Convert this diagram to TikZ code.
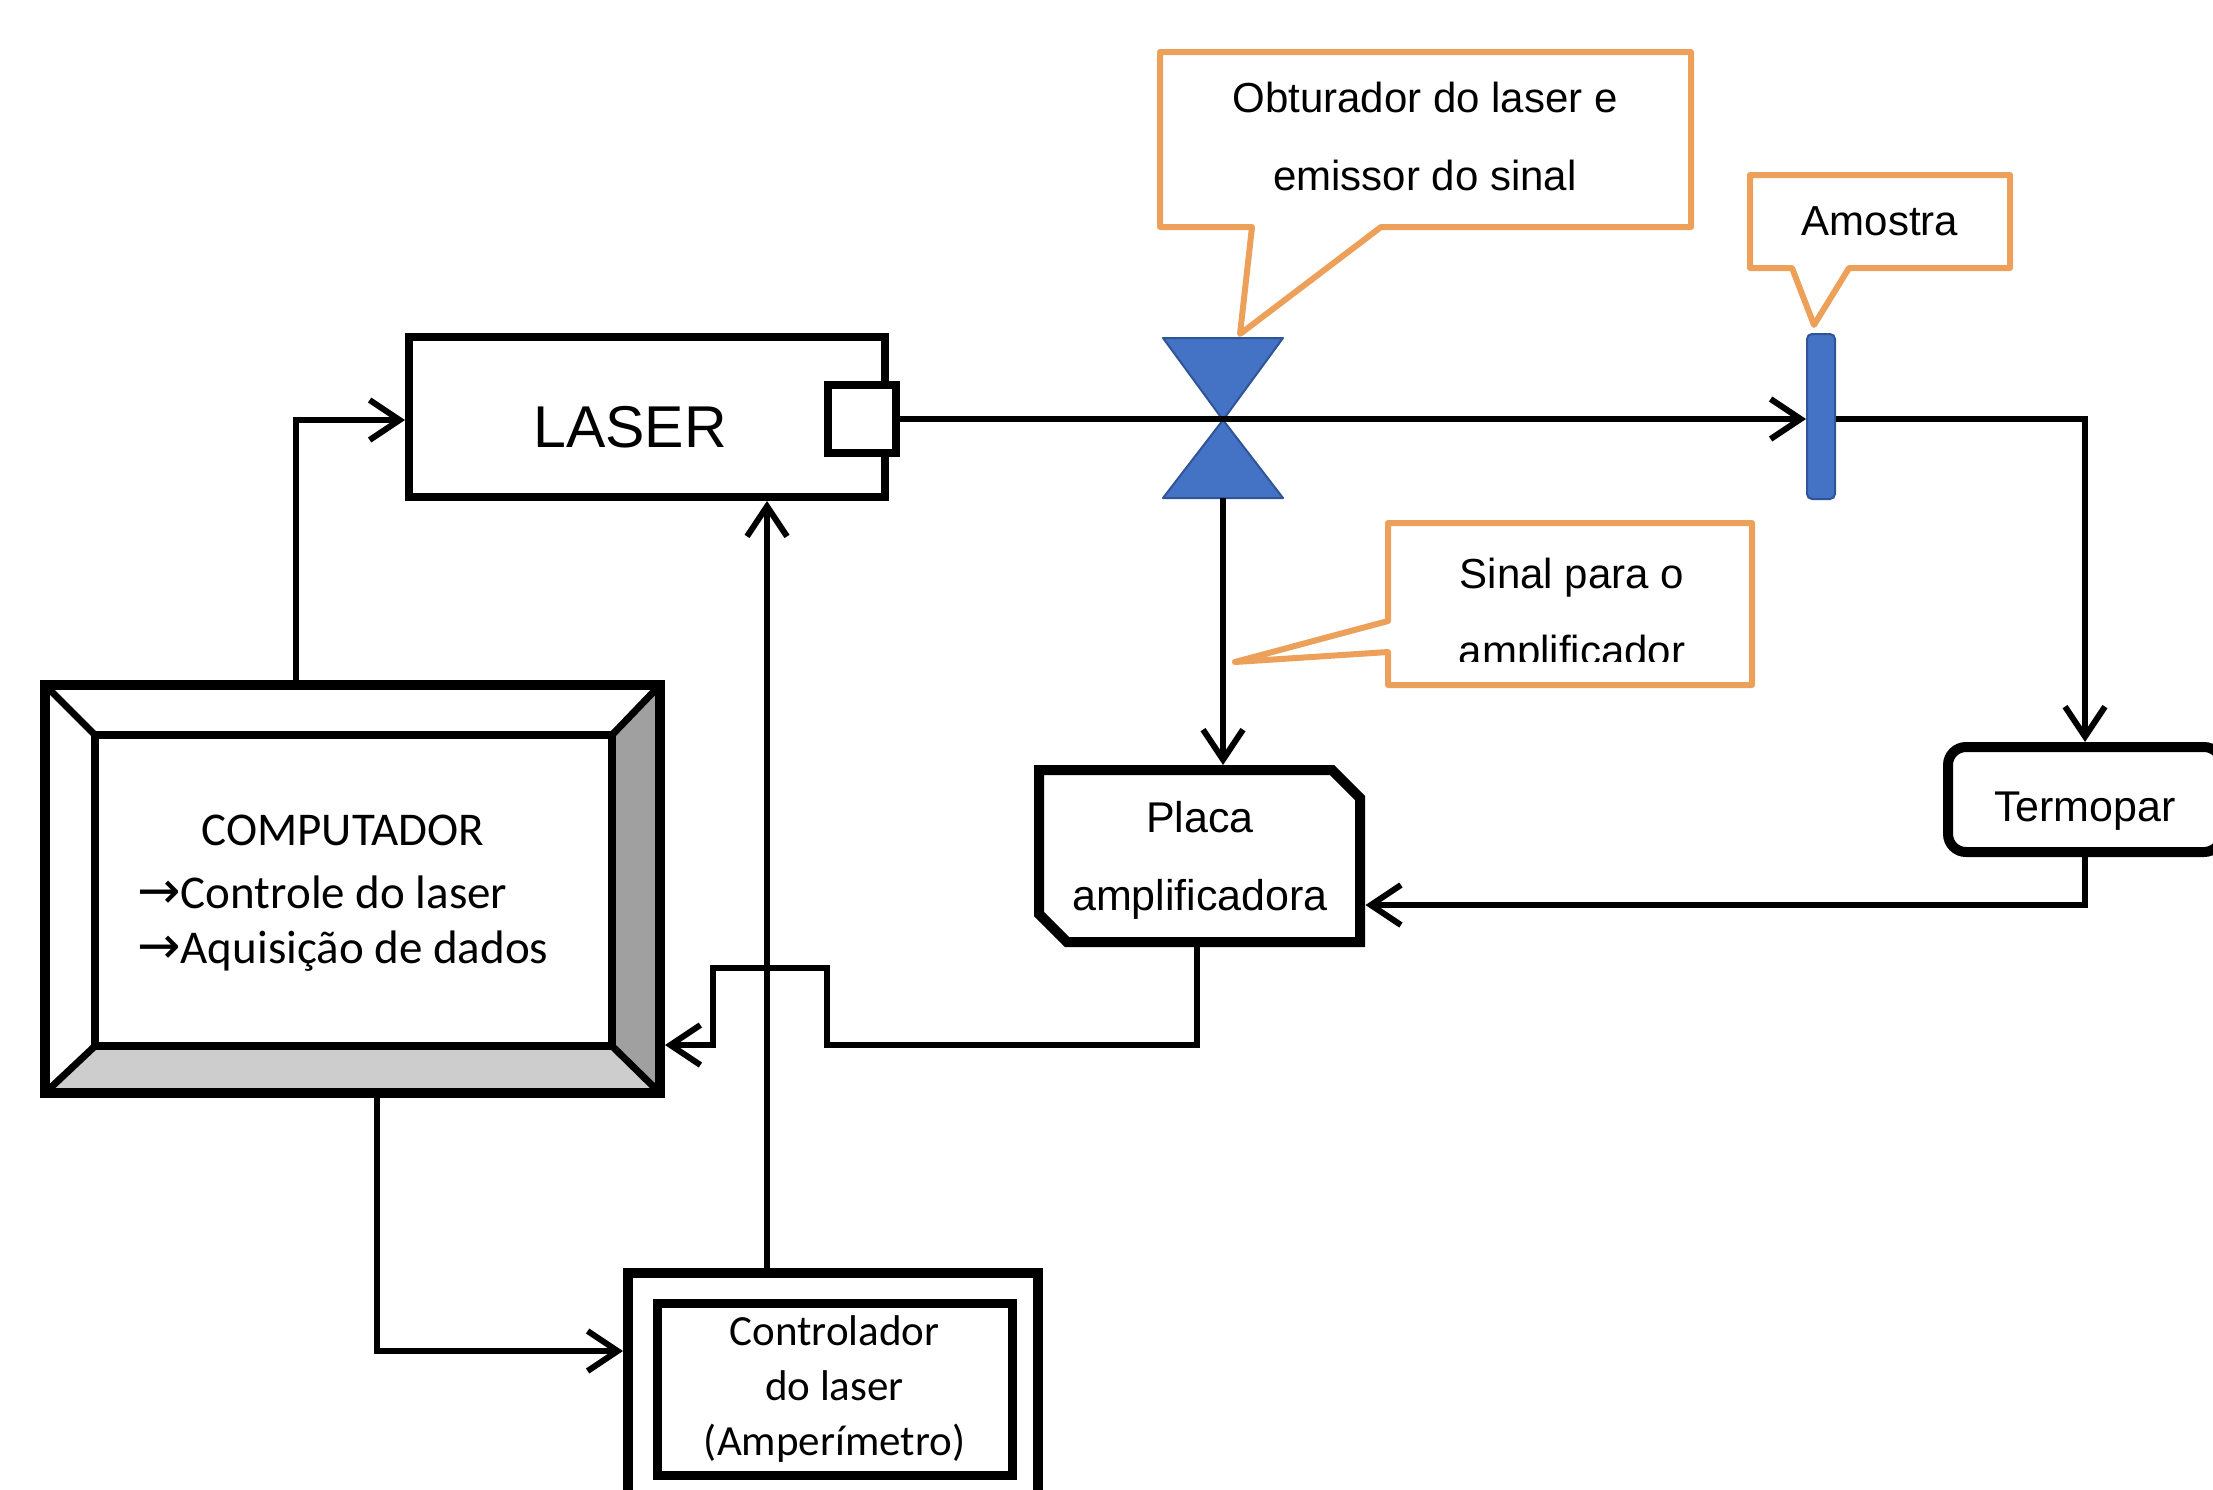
\documentclass[tikz,border=0pt]{standalone}
\usepackage{fontspec}
\setmainfont{Liberation Sans}
\newfontfamily\calib{Carlito}
\newfontfamily\dvsans{DejaVu Sans}
\usetikzlibrary{arrows.meta}
\newcommand\stk[2][c]{\begin{tabular}[t]{@{}#1@{}}#2\end{tabular}}
\newcommand\rarr{{\dvsans\fontsize{52}{55}\selectfont →}}
\definecolor{calloutor}{RGB}{236,160,90}
\definecolor{shutblue}{RGB}{68,114,196}
\definecolor{shutedge}{RGB}{47,85,151}
\definecolor{bevelR}{RGB}{160,160,160}
\definecolor{bevelB}{RGB}{205,205,205}
\begin{document}
\begin{tikzpicture}[x=1pt,y=-1pt,
  conn/.style={line width=6pt,-{Straight Barb[length=30pt,width=40pt]}},
  box/.style={draw,line width=#1,inner sep=0pt},
  box/.default=8pt,
  callout/.style={draw=calloutor,fill=white,line width=6pt,line join=round},
  ar/.style={font=\fontsize{43}{78}\selectfont}]
\useasboundingbox (0,0) rectangle (2213,1489);
\fill[white] (0,0) rectangle (2213,1489);
\clip (0,0) rectangle (2213,1489);

% computer
\fill[bevelR] (660,685) -- (660,1093) -- (612,1046) -- (612,735) -- cycle;
\fill[bevelB] (45,1093) -- (660,1093) -- (612,1046) -- (95,1046) -- cycle;
\node[box=10pt,minimum width=615pt,minimum height=408pt] (comp) at (352.5,889) {};
\node[box=8pt,minimum width=517pt,minimum height=311pt] (compin) at (353.5,890.5) {};
\draw[line width=7pt] (45,685) -- (95,735) (660,685) -- (612,735)
  (45,1093) -- (95,1046) (660,1093) -- (612,1046);
\node[anchor=base west,inner sep=0pt,font=\calib\fontsize{47}{55}\selectfont] (comptxt) at (137,845)
  {\stk[l]{\multicolumn{1}{c}{COMPUTADOR}\\[8pt]\rarr Controle do laser\\\rarr Aquisição de dados}};

% controller
\node[box=10pt,minimum width=410pt,minimum height=232pt] (ctrl) at (833,1389) {};
\node[box=9pt,minimum width=355pt,minimum height=172pt,font=\calib\fontsize{43}{55}\selectfont] (ctrlin) at (834.5,1389)
  {\stk{Controlador\\do laser\\(Amperímetro)}};

% laser
\node[box=8pt,minimum width=476pt,minimum height=160pt] (laser) at (647,417) {};
\node[anchor=base,font=\fontsize{59}{70}\selectfont] (lasertxt) at (630,447) {LASER};
\node[box=8pt,fill=white,minimum width=68pt,minimum height=68pt] (lsq) at (862,419) {};

% shutter
\filldraw[fill=shutblue,draw=shutedge,line width=2pt,line join=round]
  (1163,338) -- (1283,338) -- (1223,420) -- cycle
  (1223,420) -- (1283,498) -- (1163,498) -- cycle;
\coordinate (shutbot) at (1223,498);

% sample
\node[draw=shutedge,fill=shutblue,line width=2pt,rounded corners=5pt,minimum width=28pt,minimum height=165pt,inner sep=0pt] (amostra) at (1821,416.5) {};

% placa
\draw[line width=10pt,line join=miter] (1039,770) -- (1332,770) -- (1360,798) -- (1360,942) -- (1067,942) -- (1039,914) -- cycle;
\node[minimum width=321pt,minimum height=172pt,inner sep=0pt,outer sep=5pt,ar] (placa) at (1200,856) {\stk{Placa\\amplificadora}};

% termopar
\node[box=10pt,rounded corners=18pt,minimum width=274pt,minimum height=105pt] (termo) at (2085,799.5) {};
\node[anchor=base,font=\fontsize{43}{50}\selectfont] (termotxt) at (2085,821) {Termopar};

% connectors
\draw[conn] (lsq.east) -- (lsq.east -| amostra.west);
\draw[conn] (shutbot) -- (shutbot |- placa.north);
\draw[conn] ([yshift=-2.5pt]amostra.east) -| (termo.north);
\draw[conn] (termo.south) |- ([yshift=-49pt]placa.east);
\draw[conn] ([xshift=-3pt]placa.south) -- ++(0,98) -| (827,968) -| (713,1045) -- ([yshift=-156pt]comp.east);
\draw[conn] ([xshift=24pt]comp.south) |- ([yshift=38pt]ctrl.west);
\draw[conn] ([xshift=-66pt]ctrl.north) -- ([xshift=-66pt]ctrl.north |- laser.south);
\draw[conn] ([xshift=-56.5pt]comp.north) |- ([yshift=-3pt]laser.west);

% callouts
\draw[callout] (1160,52) -- (1691,52) -- (1691,227) -- (1381,227) -- (1240,334) -- (1252,227) -- (1160,227) -- cycle;
\node[ar,font=\fontsize{42}{78}\selectfont] (obtxt) at (1425,135.4) {\stk{Obturador do laser e\\emissor do sinal}};
\draw[callout] (1750,175) -- (2010,175) -- (2010,268) -- (1849,268) -- (1814,325) -- (1792,268) -- (1750,268) -- cycle;
\node[anchor=base,font=\fontsize{42}{50}\selectfont] (amtxt) at (1880,235) {Amostra};
\draw[callout] (1388,523) -- (1752,523) -- (1752,685) -- (1388,685) -- (1388,652) -- (1235,662) -- (1388,621) -- cycle;
\node[anchor=base,font=\fontsize{42}{50}\selectfont] (sinal1) at (1572,588) {Sinal para o};
\begin{scope}
\clip (1390,523) rectangle (1750,661);
\node[anchor=base,font=\fontsize{42}{50}\selectfont] (sinal2) at (1572,665) {amplificador};
\end{scope}
\end{tikzpicture}
\end{document}
